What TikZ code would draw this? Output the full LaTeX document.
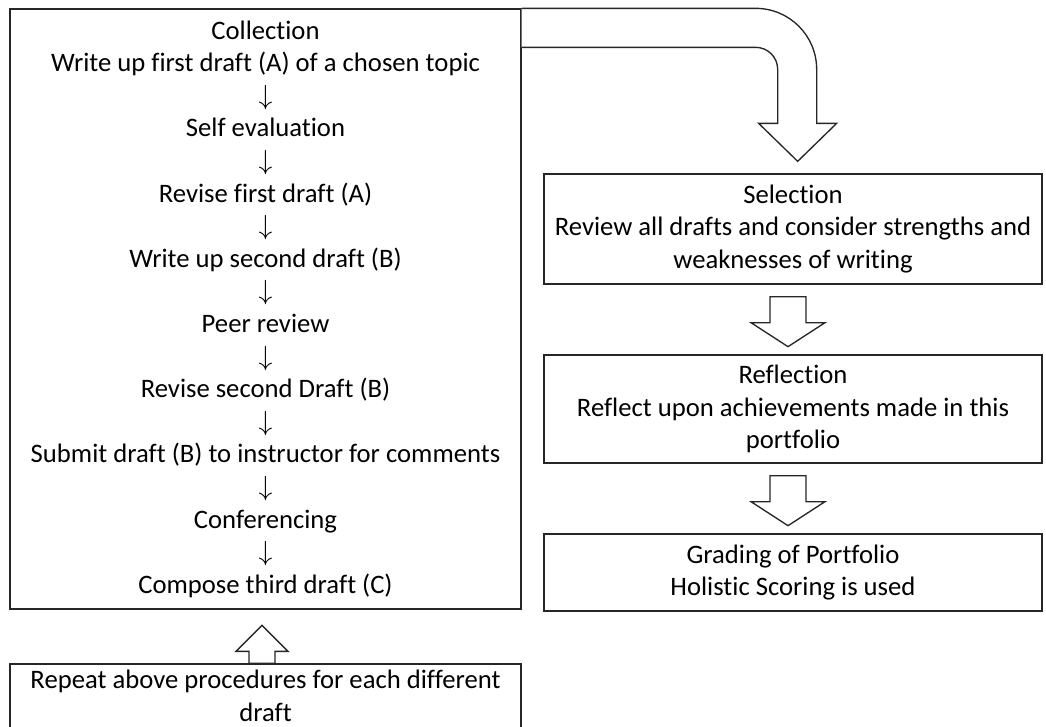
\documentclass[tikz,border=0pt]{standalone}
\usepackage{fontspec}
\setmainfont[Ligatures={NoCommon}]{Carlito}
\usepackage{tikz}
\usetikzlibrary{calc}
\definecolor{edgegray}{HTML}{262626}

\begin{document}
\begin{tikzpicture}[x=0.75pt,y=-0.75pt,
		box/.style={draw=edgegray,line width=1pt,align=center,inner sep=0pt,font=\fontsize{20}{24.45}\selectfont},
		blockarrow/.style={draw=edgegray,line width=1pt,fill=white,line join=miter}]
			\useasboundingbox (0,0) rectangle (1046,726);
			\clip (0,0) rectangle (1046,726);
			\node [box,minimum width=383.25pt,minimum height=450pt] (coll) at (265.5,309) {Collection\\Write up first draft (A) of a chosen topic\\$\downarrow$\\Self evaluation\\$\downarrow$\\Revise first draft (A)\\$\downarrow$\\Write up second draft (B)\\$\downarrow$\\Peer review\\$\downarrow$\\Revise second Draft (B)\\$\downarrow$\\Submit draft (B) to instructor for comments\\$\downarrow$\\Conferencing\\$\downarrow$\\Compose third draft (C)};
			\node [box,minimum width=383.25pt,minimum height=48pt] (rep) at (265.5,696) {Repeat above procedures for each different\\draft};
			\node [box,minimum width=373.5pt,minimum height=82.5pt] (sel) at (793,229) {Selection\\Review all drafts and consider strengths and\\weaknesses of writing};
			\node [box,minimum width=373.5pt,minimum height=81pt] (refl) at (793,409) {Reflection\\Reflect upon achievements made in this\\portfolio};
			\node [box,minimum width=373.5pt,minimum height=57.75pt] (grad) at (793,572.5) {Grading of Portfolio\\Holistic Scoring is used};
			\draw [blockarrow] (coll.north east) -- ++(234,0) arc [start angle=-90,end angle=0,radius=61] -- ++(0,54) -- ++(20,0) -- ++(-39,38) -- ++(-39,-38) -- ++(19,0) -- ++(0,-54) arc [start angle=0,end angle=-90,radius=22] -- ($(coll.north east)+(0,39)$);
			\foreach \a in {sel,refl}
				\draw [blockarrow] ($(\a.south)+(-23,12)$) -- ++(0,26) -- ++(-19,0) -- ++(37,24) -- ++(37,-24) -- ++(-19,0) -- ++(0,-26) -- cycle;
			\draw [blockarrow] ($(rep.north)+(-16.5,0)$) -- ++(0,-12) -- ++(-13,0) -- ++(26,-26) -- ++(26,26) -- ++(-13,0) -- ++(0,12) -- cycle;
		\end{tikzpicture}
\end{document}
